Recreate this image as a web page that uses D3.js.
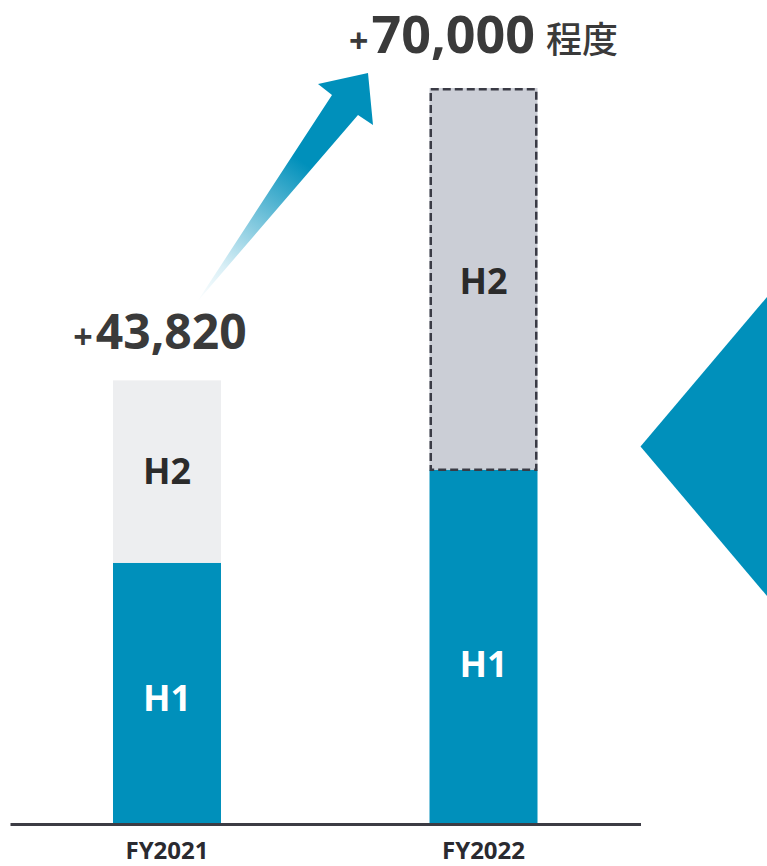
<!DOCTYPE html>
<html>
<head>
<meta charset="utf-8">
<script src="https://cdn.jsdelivr.net/npm/d3@7/dist/d3.min.js"></script>
<style>
  html, body { margin: 0; padding: 0; background: #ffffff; }
  svg { display: block; }
</style>
</head>
<body>
<svg id="chart" width="767" height="866"></svg>
<script>
// ---- data ----
const categories = ["FY2021", "FY2022"];
const seriesNames = ["H1", "H2"];
const h1Values = [25800, 35000];
const h2Values = [18020, 37700];
const totalLabels = ["43,820", "70,000"];
const totalSuffix = ["", "程度"];

const svg = d3.select("#chart");
const baseY = 824, topY = 88;

const totals = categories.map((c, i) => h1Values[i] + h2Values[i]);
const x = d3.scaleBand().domain(categories).range([10, 640.5])
  .paddingInner(0.6588).paddingOuter(0.3254);
const y = d3.scaleLinear().domain([0, d3.max(totals)]).range([baseY, topY]);

const blue = "#0090bb";
const textDark = "#3a3a3a";

// ---- decorative right diamond ----
svg.append("polygon")
  .attr("points", "640.5,446.5 767,297 767,596")
  .attr("fill", blue);

// ---- growth arrow with gradient ----
const defs = svg.append("defs");
const grad = defs.append("linearGradient")
  .attr("id", "arrowGrad")
  .attr("gradientUnits", "userSpaceOnUse")
  .attr("x1", 197).attr("y1", 302).attr("x2", 300).attr("y2", 160);
grad.append("stop").attr("offset", 0).attr("stop-color", "#ffffff");
grad.append("stop").attr("offset", 0.25).attr("stop-color", "#d9eff6");
grad.append("stop").attr("offset", 1).attr("stop-color", blue);
svg.append("polygon")
  .attr("points", "197,302 332,95 318,84 368,73 373,125 358,115")
  .attr("fill", "url(#arrowGrad)");

// ---- stacked data ----
const table = categories.map((c, i) => ({ cat: c, H1: h1Values[i], H2: h2Values[i] }));
const stack = d3.stack().keys(seriesNames)(table);

const fills = {
  H1: () => blue,
  H2: (d, i) => i === 0 ? "#edeef0" : "#cbced6"
};

const g = svg.append("g");
stack.forEach(layer => {
  g.selectAll(null).data(layer).enter().append("rect")
    .attr("x", d => x(d.data.cat))
    .attr("width", x.bandwidth())
    .attr("y", d => y(d[1]))
    .attr("height", d => y(d[0]) - y(d[1]))
    .attr("fill", (d, i) => fills[layer.key](d, i));
});

// dashed outline for planned FY2022 H2
const d2 = stack[1][1];
svg.append("rect")
  .attr("x", x(d2.data.cat) + 1.25)
  .attr("width", x.bandwidth() - 2.5)
  .attr("y", y(d2[1]) + 1.25)
  .attr("height", y(d2[0]) - y(d2[1]) - 1.25)
  .attr("fill", "none")
  .attr("stroke", "#3a3b45")
  .attr("stroke-width", 2.5)
  .attr("stroke-dasharray", "8,4");

// segment labels
const labelFs = 36;
const labelOffsets = { H1: [4.5, 17], H2: [0, 2] };
stack.forEach(layer => {
  g.selectAll(null).data(layer).enter().append("text")
    .attr("x", d => x(d.data.cat) + x.bandwidth() / 2)
    .attr("y", (d, i) => (y(d[0]) + y(d[1])) / 2 + labelOffsets[layer.key][i] + labelFs * 0.357)
    .attr("text-anchor", "middle")
    .attr("font-family", "'Open Sans', sans-serif")
    .attr("font-weight", 700)
    .attr("font-size", labelFs)
    .attr("fill", layer.key === "H1" ? "#ffffff" : "#2b2b2b")
    .text(layer.key);
});

// total labels
categories.forEach((c, i) => {
  const cx = x(c) + x.bandwidth() / 2;
  const t = svg.append("text")
    .attr("x", cx + (i === 0 ? -7 : 0))
    .attr("y", y(totals[i]) - (i === 0 ? 31 : 35))
    .attr("text-anchor", "middle")
    .attr("font-family", "'Open Sans', sans-serif")
    .attr("font-weight", 700)
    .attr("fill", textDark);
  t.append("tspan").attr("font-size", 34).text("+");
  t.append("tspan").attr("dx", 3).attr("font-size", i === 0 ? 48 : 52).text(totalLabels[i]);
  if (totalSuffix[i]) {
    t.append("tspan").attr("dx", 11)
      .attr("font-family", "'Noto Sans CJK JP', sans-serif")
      .attr("font-weight", 500)
      .attr("font-size", 36).text(totalSuffix[i]);
  }
});

// ---- x axis ----
const axis = svg.append("g")
  .attr("transform", `translate(0,${baseY})`)
  .call(d3.axisBottom(x).tickSize(0).tickPadding(18));
axis.select(".domain").attr("stroke", "#3c3c44").attr("stroke-width", 3);
axis.selectAll(".tick text")
  .attr("font-family", "'Open Sans', sans-serif")
  .attr("font-weight", 700)
  .attr("font-size", 24)
  .attr("fill", "#2a2a30");
</script>
</body>
</html>
